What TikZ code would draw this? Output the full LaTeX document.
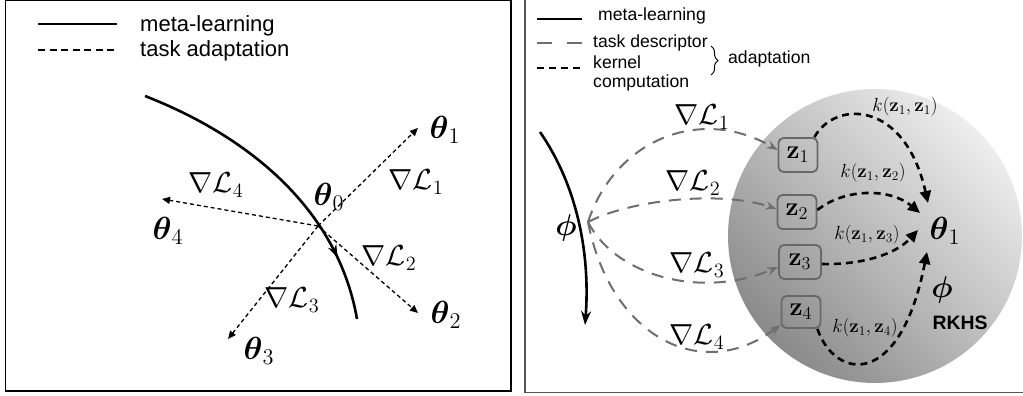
\documentclass[tikz,border=0pt]{standalone}
\usepackage{fix-cm}
\usepackage{amsmath}
\usepackage{graphicx}
\usepackage[no-math]{fontspec}
\newfontfamily\hv{Liberation Sans}
\usetikzlibrary{arrows.meta,decorations.markings,decorations.pathreplacing,shapes.misc}
\definecolor{descgray}{HTML}{6E6E6E}
\definecolor{framegray}{HTML}{555555}
\definecolor{boxgray}{HTML}{686868}
\definecolor{rklight}{HTML}{EEEEEE}
\definecolor{rkdark}{HTML}{8A8A8A}
\newcommand{\mysc}[2]{\scalebox{#1}{#2}}
\begin{document}
\begin{tikzpicture}[x=1pt,y=-1pt,
  lgL/.style={font=\hv\fontsize{22}{24}\selectfont, anchor=base west, inner sep=0pt},
  lgR/.style={font=\hv\fontsize{17.6}{19}\selectfont, anchor=base west, inner sep=0pt},
  metaline/.style={line width=2.6pt, black},
  adapt/.style={line width=1.3pt, dash pattern=on 4pt off 3pt, -{Triangle[length=8pt,width=7pt]}},
  desc/.style={draw=descgray, line width=2pt, dash pattern=on 12pt off 9pt, -{Stealth[length=11pt,width=8pt]}},
  kern/.style={line width=2.6pt, dash pattern=on 7pt off 5pt, -{Triangle[length=12pt,width=11pt]}},
  zbox/.style={draw=boxgray, line width=1.8pt, rounded corners=5pt, minimum width=39pt, minimum height=34pt, inner sep=0pt, font=\fontsize{20}{22}\selectfont},
  mlab/.style={inner sep=1pt, font=\fontsize{20}{22}\selectfont},
  klab/.style={inner sep=1pt, font=\fontsize{19}{21}\selectfont}
]
\useasboundingbox (0,0) rectangle (1023,396);

% ---------------- left panel ----------------
\draw[line width=1.4pt] (5.5,0.7) rectangle (511,391);

\coordinate (la0) at (38,24); \coordinate (la1) at (117,24);
\coordinate (lb0) at (38,50); \coordinate (lb1) at (117,50);
\draw[line width=2.6pt] (la0) -- (la1);
\draw[line width=2.5pt, dash pattern=on 7pt off 4.5pt] (lb0) -- (lb1);
\node[lgL] (lt1) at (140,32) {meta-learning};
\node[lgL] (lt2) at (140,57) {task adaptation};

\coordinate (m0) at (145,96);
\coordinate (m1) at (357,319);
\draw[metaline, postaction={decorate},
  decoration={markings, mark=at position 0.8 with {\arrow{Stealth[length=13pt,width=9pt]}}}]
  (m0) .. controls (250,137) and (338,210) .. (m1);

\coordinate (O) at (318,226);
\coordinate (t1) at (418,128);
\coordinate (t2) at (418,313);
\coordinate (t3) at (228,339);
\coordinate (t4) at (162,199);
\draw[adapt] (O) -- (t1);
\draw[adapt] (O) -- (t2);
\draw[adapt] (O) -- (t3);
\draw[adapt] (O) -- (t4);

\node[mlab] (th0) at (329,197) {\mysc{1.6}{$\boldsymbol{\theta}_0$}};
\node[mlab] (th1L) at (445,130) {\mysc{1.6}{$\boldsymbol{\theta}_1$}};
\node[mlab] (th2L) at (446,315) {\mysc{1.6}{$\boldsymbol{\theta}_2$}};
\node[mlab] (th3L) at (259,351) {\mysc{1.6}{$\boldsymbol{\theta}_3$}};
\node[mlab] (th4L) at (168,231) {\mysc{1.6}{$\boldsymbol{\theta}_4$}};
\node[mlab] (g1L) at (416,182) {\mysc{1.45}{$\nabla\mathcal{L}_1$}};
\node[mlab] (g2L) at (389,258) {\mysc{1.45}{$\nabla\mathcal{L}_2$}};
\node[mlab] (g3L) at (292,300) {\mysc{1.45}{$\nabla\mathcal{L}_3$}};
\node[mlab] (g4L) at (216,185) {\mysc{1.45}{$\nabla\mathcal{L}_4$}};

% ---------------- right panel ----------------
\draw[framegray, line width=1.6pt] (525,0) -- (525,392.5) -- (1023,392.5);

\coordinate (ra0) at (537,19); \coordinate (ra1) at (582,19);
\coordinate (rb0) at (537,43); \coordinate (rb1) at (582,43);
\coordinate (rc0) at (537,68); \coordinate (rc1) at (582,68);
\draw[line width=2.6pt] (ra0) -- (ra1);
\draw[descgray, line width=2pt, dash pattern=on 15pt off 15pt] (rb0) -- (rb1);
\draw[line width=2.6pt, dash pattern=on 7pt off 5pt] (rc0) -- (rc1);
\node[lgR] (rt1) at (598,21) {meta-learning};
\node[lgR] (rt2) at (593,48) {task descriptor};
\node[lgR] (rt3) at (593,69) {kernel};
\node[lgR] (rt4) at (593,88) {computation};
\coordinate (br0) at (711,46); \coordinate (br1) at (711,75);
\draw[decorate, decoration={brace, amplitude=7pt}, line width=1pt] (br0) -- (br1);
\node[lgR] (rt5) at (728,64) {adaptation};

% RKHS ball
\node[circle, minimum size=294pt, inner sep=0pt, top color=rklight, bottom color=rkdark, shading angle=-45] (ball) at (875,236) {};

% meta-learning curve
\coordinate (p0) at (540,132);
\coordinate (p1) at (585,325);
\draw[metaline, -{Stealth[length=14pt,width=10pt]}] (p0) .. controls (580,190) and (590,260) .. (p1);
\coordinate (phi) at (588,222);
\node[mlab] (phiL) at (566,228) {\mysc{1.5}{$\boldsymbol{\phi}$}};

% z boxes
\node[zbox] (z1) at (798,155) {\mysc{1.3}{$\mathbf{z}_1$}};
\node[zbox] (z2) at (797,212) {\mysc{1.3}{$\mathbf{z}_2$}};
\node[zbox, minimum width=42pt] (z3) at (800,262) {\mysc{1.3}{$\mathbf{z}_3$}};
\node[zbox, minimum height=32pt] (z4) at (801,312) {\mysc{1.3}{$\mathbf{z}_4$}};

% task descriptor curves
\draw[desc] (phi) .. controls (615,140) and (700,105) .. ([yshift=5pt]z1.west);
\draw[desc] (phi) .. controls (630,200) and (720,190) .. ([yshift=3pt]z2.west);
\draw[desc] (phi) .. controls (615,275) and (700,300) .. ([yshift=-5pt]z3.west);
\draw[desc] (phi) .. controls (610,335) and (700,385) .. ([yshift=4pt]z4.south west);
\node[mlab] (g1R) at (702,117) {\mysc{1.45}{$\nabla\mathcal{L}_1$}};
\node[mlab] (g2R) at (693,183) {\mysc{1.45}{$\nabla\mathcal{L}_2$}};
\node[mlab] (g3R) at (697,265) {\mysc{1.45}{$\nabla\mathcal{L}_3$}};
\node[mlab] (g4R) at (697,337) {\mysc{1.45}{$\nabla\mathcal{L}_4$}};

% theta_1 and kernel curves
\node[mlab] (th1R) at (945,231) {\mysc{1.6}{$\boldsymbol{\theta}_1$}};
\coordinate (k1) at (928,203);
\coordinate (k2) at (920,213);
\coordinate (k3) at (918,230);
\coordinate (k4) at (927,252);
\draw[kern] ([xshift=-4pt]z1.north east) .. controls (835,100) and (905,100) .. (k1);
\draw[kern] ([yshift=2pt]z2.east) .. controls (845,188) and (890,188) .. (k2);
\draw[kern] ([yshift=-2pt]z3.east) .. controls (860,265) and (895,255) .. (k3);
\draw[kern] ([xshift=-4pt]z4.south east) .. controls (835,380) and (900,390) .. (k4);
\node[klab] (kl1) at (905,107) {$k(\mathbf{z}_1,\mathbf{z}_1)$};
\node[klab] (kl2) at (873,173) {$k(\mathbf{z}_1,\mathbf{z}_2)$};
\node[klab] (kl3) at (867,235) {$k(\mathbf{z}_1,\mathbf{z}_3)$};
\node[klab] (kl4) at (865,328) {$k(\mathbf{z}_1,\mathbf{z}_4)$};

\node[mlab] (phiR) at (942,290) {\mysc{1.5}{$\boldsymbol{\phi}$}};
\node[inner sep=0pt, font=\hv\bfseries\fontsize{19.4}{21}\selectfont] (rkhs) at (960,323) {RKHS};
\end{tikzpicture}
\end{document}
